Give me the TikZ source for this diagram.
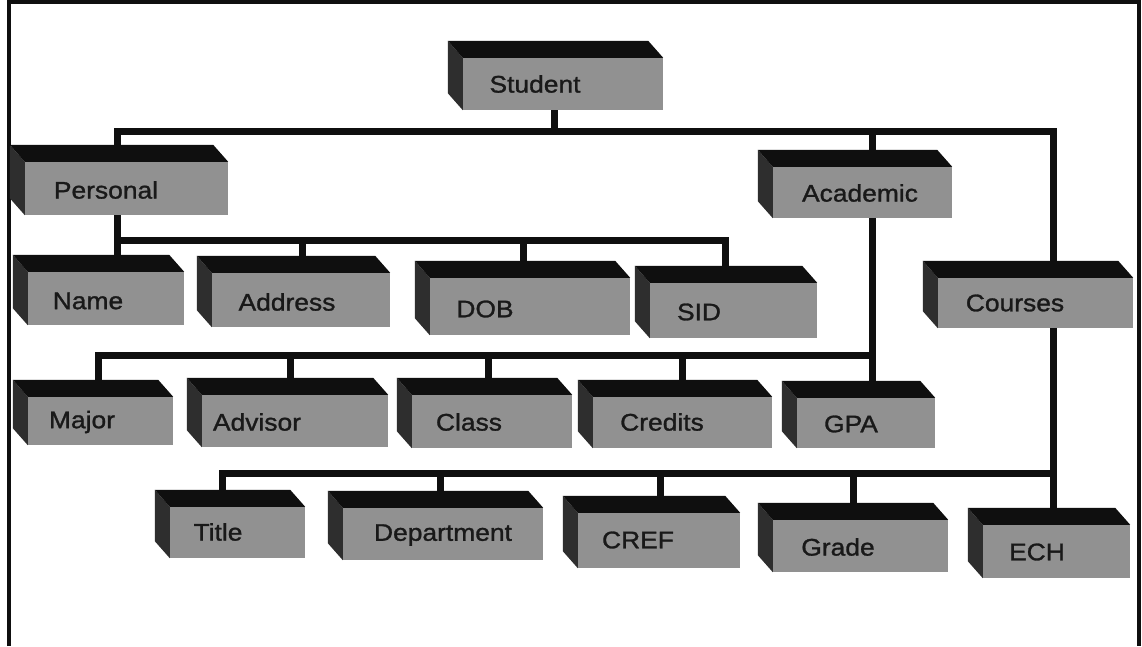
\documentclass[tikz,border=0pt]{standalone}
\usepackage{fontspec}
\newfontfamily\boxfont[FakeStretch=1.1,FakeBold=1.2]{Liberation Sans}
\usetikzlibrary{backgrounds}
\definecolor{face}{gray}{0.57}
\definecolor{dark}{gray}{0.06}
\definecolor{side}{gray}{0.18}
\definecolor{ink}{gray}{0.1}
\tikzset{
  conn/.style={line width=7pt, draw=dark},
  frameline/.style={line width=3.5pt, draw=dark},
  faceb/.style={fill=face, inner sep=0pt, draw=none},
  lbl/.style={font=\boxfont\fontsize{24}{24}\selectfont, text=ink, inner sep=0pt, anchor=center},
}
\newcommand\mybox[8]{%
  \node[faceb, minimum width={(#4-#2)*1pt}, minimum height={(#5-#3)*1pt}] (#1) at ({(#2+#4)/2},{(#3+#5)/2}) {};
  \fill[side] (#1.south west) -- ++(-15,-17) -- ([shift={(-15,-17)}]#1.north west) -- (#1.north west) -- cycle;
  \fill[dark] (#1.north west) -- ([shift={(-15,-17)}]#1.north west) -- ([shift={(-15,-17)}]#1.north east) -- (#1.north east) -- cycle;
  \node[lbl] (#1-t) at (#7,#8) {#6};
}
\begin{document}
\begin{tikzpicture}[x=1pt,y=-1pt]
\useasboundingbox (0,0) rectangle (1142,646);
\draw[frameline] (9,646) -- (9,1.75) -- (1139,1.75) -- (1139,646);

\mybox{Student}{463}{58}{663}{110}{Student}{535}{84}
\mybox{Personal}{25}{162}{228}{215}{Personal}{106}{190}
\mybox{Academic}{773}{167}{952}{218}{Academic}{860}{193}
\mybox{Courses}{938}{278}{1133}{328}{Courses}{1015}{303}

\mybox{Name}{28}{272}{184}{325}{Name}{88}{301}
\mybox{Address}{212}{273}{390}{327}{Address}{287}{302}
\mybox{DOB}{430}{278}{630}{335}{DOB}{485}{309}
\mybox{SID}{650}{283}{817}{338}{SID}{699}{312}

\mybox{Major}{28}{397}{173}{445}{Major}{82}{422}
\mybox{Advisor}{202}{395}{388}{447}{Advisor}{257}{422}
\mybox{Class}{412}{395}{572}{448}{Class}{469}{422}
\mybox{Credits}{593}{397}{772}{448}{Credits}{662}{422}
\mybox{GPA}{797}{398}{935}{448}{GPA}{851}{424}

\mybox{Title}{170}{507}{305}{558}{Title}{218}{532}
\mybox{Department}{343}{508}{543}{560}{Department}{443}{535}
\mybox{CREF}{578}{513}{740}{568}{CREF}{638}{540}
\mybox{Grade}{773}{520}{948}{572}{Grade}{838}{547}
\mybox{ECH}{983}{525}{1130}{578}{ECH}{1037}{552}

\begin{scope}[on background layer]
  \fill[white] (0,0) rectangle (1142,646);
  % main bus
  \draw[conn] ([xshift=-9]Student.south) -- ++(0,21) -| ([xshift=-9.5]Personal.north);
  \draw[conn] ([xshift=-9]Student.south) -- ++(0,21) -| ([xshift=9.5]Academic.north);
  \draw[conn] ([xshift=-9]Student.south) -- ++(0,21) -| ([xshift=17.5]Courses.north);
  % personal bus
  \draw[conn] ([xshift=-9.5]Personal.south) -- ++(0,25) -| ([xshift=11]Name.north);
  \draw[conn] ([xshift=-9.5]Personal.south) -- ++(0,25) -| ([xshift=1]Address.north);
  \draw[conn] ([xshift=-9.5]Personal.south) -- ++(0,25) -| ([xshift=-7]DOB.north);
  \draw[conn] ([xshift=-9.5]Personal.south) -- ++(0,25) -| ([xshift=-8.5]SID.north);
  % academic bus
  \draw[conn] ([xshift=9.5]Academic.south) -- ++(0,137) -| ([xshift=-2.5]Major.north);
  \draw[conn] ([xshift=9.5]Academic.south) -- ++(0,137) -| ([xshift=-5]Advisor.north);
  \draw[conn] ([xshift=9.5]Academic.south) -- ++(0,137) -| ([xshift=-4]Class.north);
  \draw[conn] ([xshift=9.5]Academic.south) -- ++(0,137) -| ([xshift=0]Credits.north);
  \draw[conn] ([xshift=9.5]Academic.south) -- ([xshift=6]GPA.north);
  % courses bus
  \draw[conn] ([xshift=17.5]Courses.south) -- ++(0,145) -| ([xshift=-15.5]Title.north);
  \draw[conn] ([xshift=17.5]Courses.south) -- ++(0,145) -| ([xshift=-3]Department.north);
  \draw[conn] ([xshift=17.5]Courses.south) -- ++(0,145) -| ([xshift=1]CREF.north);
  \draw[conn] ([xshift=17.5]Courses.south) -- ++(0,145) -| ([xshift=-7.5]Grade.north);
  \draw[conn] ([xshift=17.5]Courses.south) -- ([xshift=-3.5]ECH.north);
\end{scope}
\end{tikzpicture}
\end{document}
